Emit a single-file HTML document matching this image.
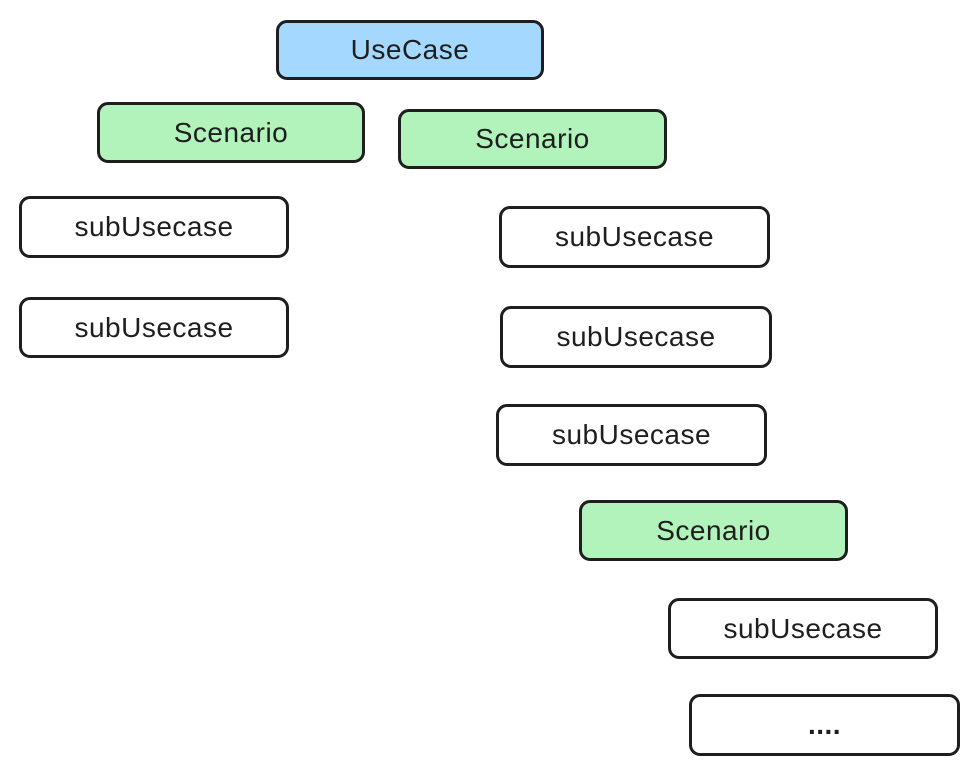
<!DOCTYPE html>
<html><head><meta charset="utf-8"><style>
html,body{margin:0;padding:0;background:#fff;}
body{width:978px;height:775px;position:relative;overflow:hidden;font-family:"Liberation Sans",sans-serif;}
.b{position:absolute;box-sizing:border-box;border:3px solid #1e1e1e;border-radius:11px;display:flex;align-items:center;justify-content:center;font-size:28px;color:#1e1e1e;letter-spacing:0.5px;}
.bl{background:#a5d8ff;}
.g{background:#b2f2bb;}
.w{background:#fff;}
</style></head><body>
<div class="b bl" style="left:276px;top:20px;width:268px;height:60px;">UseCase</div>
<div class="b g" style="left:97px;top:102px;width:268px;height:61px;">Scenario</div>
<div class="b g" style="left:398px;top:109px;width:269px;height:60px;">Scenario</div>
<div class="b w" style="left:19px;top:196px;width:270px;height:62px;">subUsecase</div>
<div class="b w" style="left:19px;top:297px;width:270px;height:61px;">subUsecase</div>
<div class="b w" style="left:499px;top:206px;width:271px;height:62px;">subUsecase</div>
<div class="b w" style="left:500px;top:306px;width:272px;height:62px;">subUsecase</div>
<div class="b w" style="left:496px;top:404px;width:271px;height:62px;">subUsecase</div>
<div class="b g" style="left:579px;top:500px;width:269px;height:61px;">Scenario</div>
<div class="b w" style="left:668px;top:598px;width:270px;height:61px;">subUsecase</div>
<div class="b w" style="left:689px;top:694px;width:271px;height:62px;font-weight:bold;">....</div>
</body></html>
